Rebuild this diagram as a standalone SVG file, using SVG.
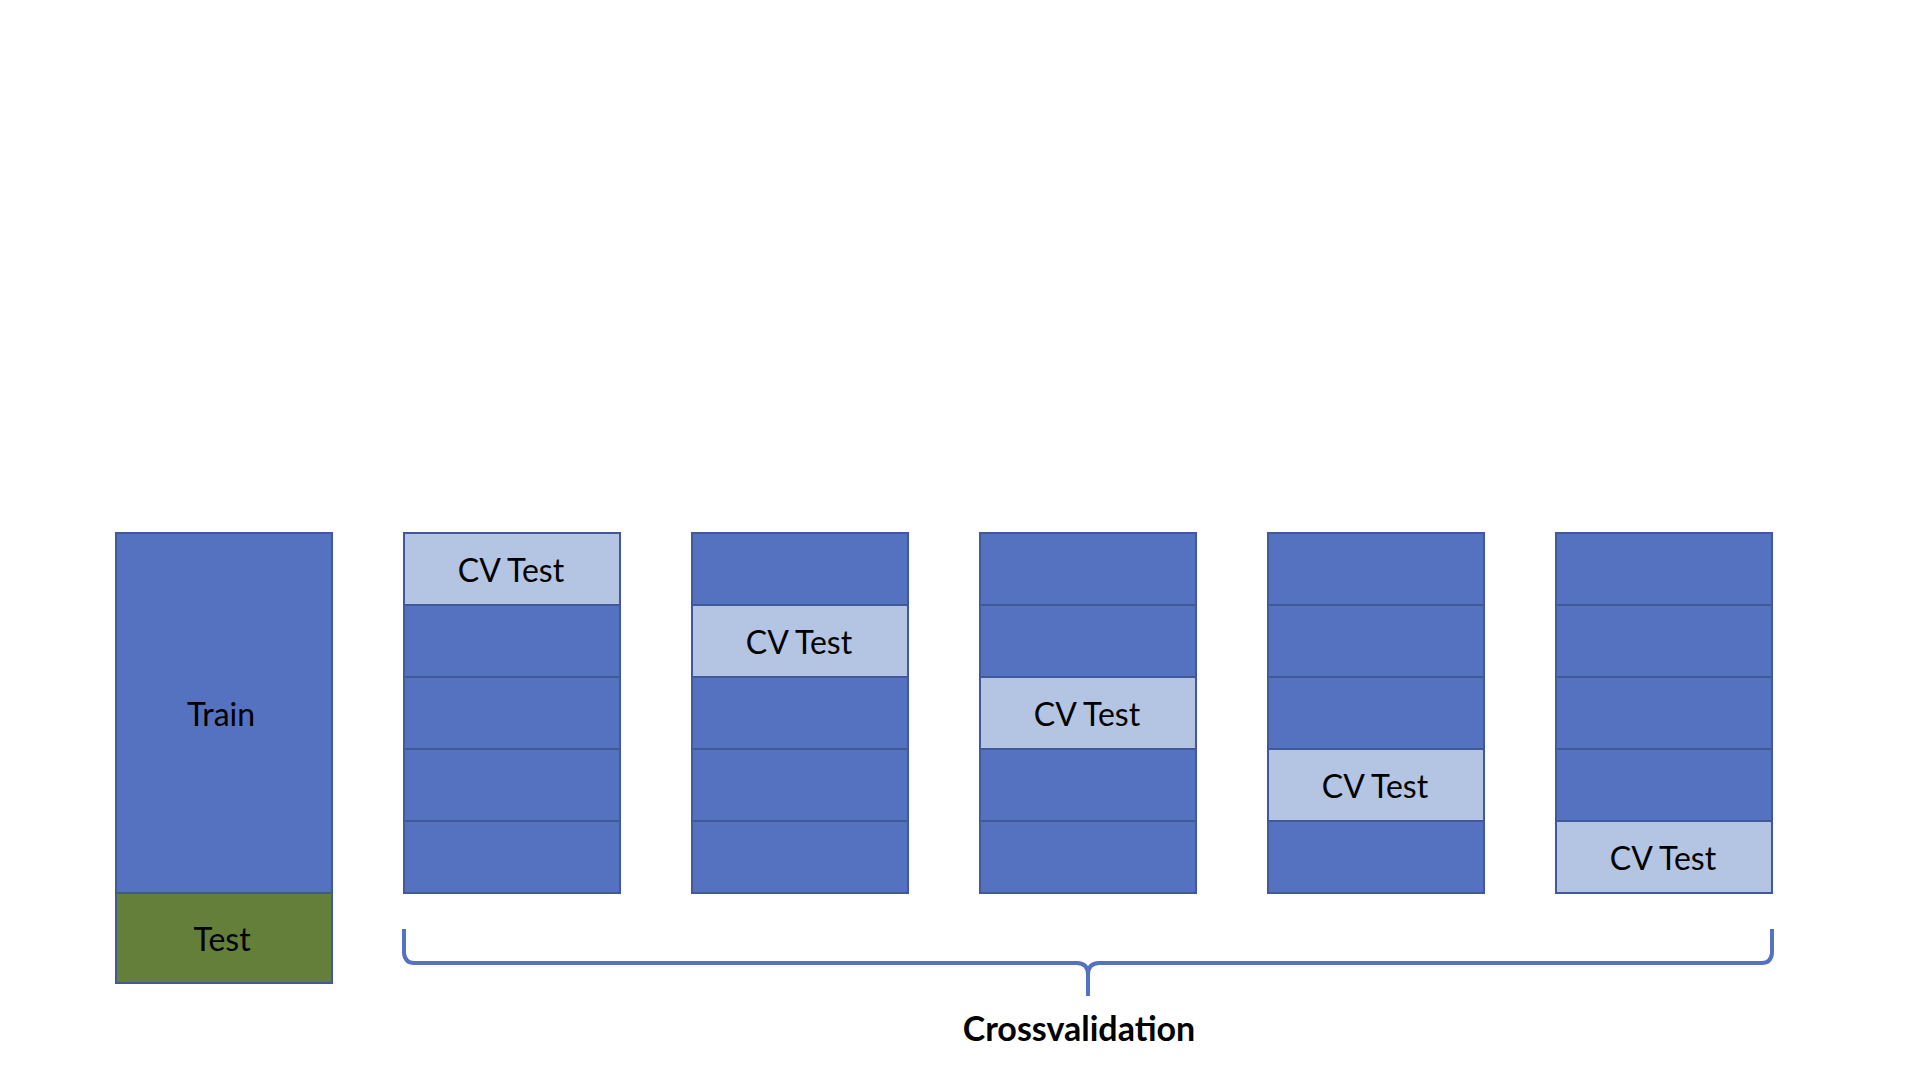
<svg xmlns="http://www.w3.org/2000/svg" width="1920" height="1080" viewBox="0 0 1920 1080">
<style>
.b{fill:#5572C0;stroke:#41589A;stroke-width:2}
.l{fill:#B4C5E4;stroke:#41589A;stroke-width:2}
.g{fill:#637F3A;stroke:#41589A;stroke-width:2}
text{font-family:Lato,"Open Sans","Liberation Sans",sans-serif;font-size:32px;fill:#000;text-anchor:middle;dominant-baseline:central}
.t{font-weight:bold;font-size:34px}
</style>
<rect width="1920" height="1080" fill="#fff"/>
<g id="train-test">
<rect class="b" x="116" y="533" width="216" height="360"/>
<rect class="g" x="116" y="893" width="216" height="90"/>
<text x="221" y="713">Train</text>
<text x="222" y="938">Test</text>
</g>
<g id="fold1">
<rect class="l" x="404" y="533" width="216" height="72"/>
<rect class="b" x="404" y="605" width="216" height="72"/>
<rect class="b" x="404" y="677" width="216" height="72"/>
<rect class="b" x="404" y="749" width="216" height="72"/>
<rect class="b" x="404" y="821" width="216" height="72"/>
<text x="511" y="569">CV Test</text>
</g>
<g id="fold2">
<rect class="b" x="692" y="533" width="216" height="72"/>
<rect class="l" x="692" y="605" width="216" height="72"/>
<rect class="b" x="692" y="677" width="216" height="72"/>
<rect class="b" x="692" y="749" width="216" height="72"/>
<rect class="b" x="692" y="821" width="216" height="72"/>
<text x="799" y="641">CV Test</text>
</g>
<g id="fold3">
<rect class="b" x="980" y="533" width="216" height="72"/>
<rect class="b" x="980" y="605" width="216" height="72"/>
<rect class="l" x="980" y="677" width="216" height="72"/>
<rect class="b" x="980" y="749" width="216" height="72"/>
<rect class="b" x="980" y="821" width="216" height="72"/>
<text x="1087" y="713">CV Test</text>
</g>
<g id="fold4">
<rect class="b" x="1268" y="533" width="216" height="72"/>
<rect class="b" x="1268" y="605" width="216" height="72"/>
<rect class="b" x="1268" y="677" width="216" height="72"/>
<rect class="l" x="1268" y="749" width="216" height="72"/>
<rect class="b" x="1268" y="821" width="216" height="72"/>
<text x="1375" y="785">CV Test</text>
</g>
<g id="fold5">
<rect class="b" x="1556" y="533" width="216" height="72"/>
<rect class="b" x="1556" y="605" width="216" height="72"/>
<rect class="b" x="1556" y="677" width="216" height="72"/>
<rect class="b" x="1556" y="749" width="216" height="72"/>
<rect class="l" x="1556" y="821" width="216" height="72"/>
<text x="1663" y="857">CV Test</text>
</g>
<g id="connectors">
<path d="M404,929 L404,953 Q405,963 414,963 L1077,963 Q1088,963 1088,975 L1088,996 M1088,996 L1088,975 Q1088,963 1099,963 L1762,963 Q1771,963 1772,953 L1772,929" fill="none" stroke="#5572C0" stroke-width="4"/>
</g>
<g id="label">
<text class="t" x="1079" y="1027">Crossvalidation</text>
</g>
</svg>
